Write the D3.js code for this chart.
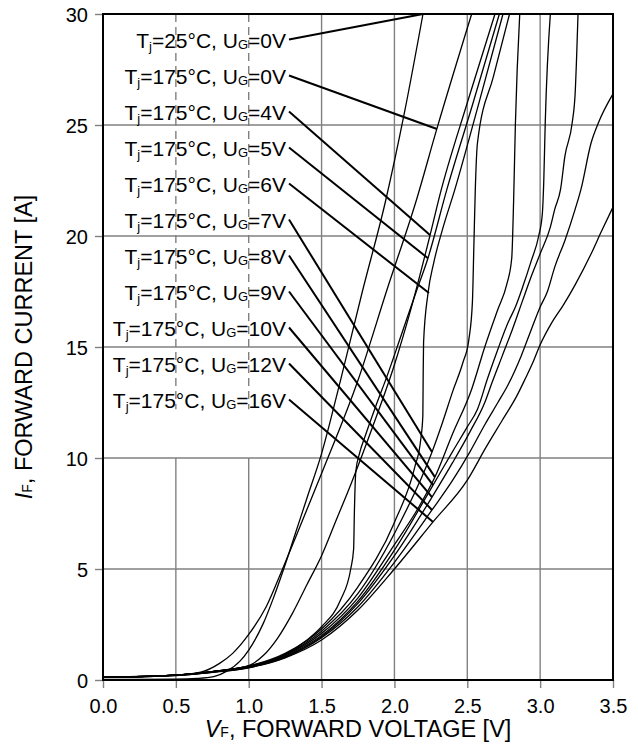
<!DOCTYPE html>
<html>
<head>
<meta charset="utf-8">
<script src="https://cdn.jsdelivr.net/npm/d3@7"></script>
<style>
  body { margin: 0; background: #fff; }
  svg { display: block; }
  text { font-family: "Liberation Sans", Arial, sans-serif; fill: #000; }
</style>
</head>
<body>
<div id="chart"></div>
<script>
// ============ Data (V_F [V], I_F [A]) ============
const tj25Ug0 = [[0,0.03],[0.5,0.04],[0.65,0.07],[0.76,0.15],[0.85,0.4],[0.94,0.85],[1.0,1.35],[1.1,2.55],[1.17,3.7],[1.24,5.0],[1.32,6.6],[1.4,8.2],[1.5,10.2],[1.63,13.5],[1.78,17.5],[1.94,21.6],[2.07,25.6],[2.196,30]];
const tj175Ug0 = [[0,0.12],[0.3,0.17],[0.5,0.22],[0.67,0.35],[0.8,0.75],[0.89,1.2],[1.0,2.05],[1.12,3.3],[1.235,5.05],[1.32,6.4],[1.5,9.3],[1.75,13.5],[1.95,17.6],[2.15,21.6],[2.29,24.8],[2.53,30]];
const tj175Ug4 = [[0,0.12],[0.5,0.22],[0.75,0.38],[1.0,0.65],[1.1,1.1],[1.2,1.9],[1.3,3.0],[1.4,4.3],[1.5,5.6],[1.6,7.2],[1.7,8.8],[1.85,11.4],[2.0,14.2],[2.1,16.4],[2.245,20.05],[2.31,21.8],[2.5,26.0],[2.69,30]];
const tj175Ug5 = [[0,0.12],[0.5,0.22],[0.75,0.38],[1.0,0.62],[1.25,1.15],[1.4,1.8],[1.5,2.4],[1.63,3.6],[1.7,5.0],[1.72,5.9],[1.725,7.5],[1.735,9.4],[1.76,10.2],[1.8,11.0],[1.87,12.3],[1.95,13.7],[2.05,15.6],[2.15,17.5],[2.23,19.0],[2.36,22.1],[2.54,26.0],[2.72,30]];
const tj175Ug6 = [[0,0.12],[0.5,0.22],[0.75,0.38],[1.0,0.63],[1.25,1.2],[1.5,2.3],[1.75,4.2],[2.0,7.1],[2.14,9.6],[2.18,10.8],[2.195,11.9],[2.197,13.5],[2.2,15.2],[2.23,17.4],[2.27,18.8],[2.33,20.3],[2.415,22.1],[2.58,26.0],[2.745,30]];
const tj175Ug7 = [[0,0.12],[0.5,0.22],[0.75,0.38],[1.0,0.62],[1.25,1.15],[1.5,2.2],[1.75,3.9],[2.0,6.6],[2.258,10.27],[2.33,11.6],[2.4,13.0],[2.47,14.3],[2.51,15.3],[2.535,17.0],[2.545,19.5],[2.555,22.1],[2.57,24.2],[2.68,27.2],[2.79,30]];
const tj175Ug8 = [[0,0.12],[0.5,0.22],[0.75,0.38],[1.0,0.6],[1.25,1.12],[1.5,2.1],[1.75,3.7],[2.0,6.1],[2.15,7.6],[2.278,9.14],[2.4,11.1],[2.53,13.1],[2.62,15.0],[2.71,16.7],[2.77,17.8],[2.805,19.0],[2.818,21.6],[2.83,25],[2.86,30]];
const tj175Ug9 = [[0,0.12],[0.5,0.22],[0.75,0.37],[1.0,0.58],[1.25,1.08],[1.5,2.0],[1.75,3.55],[2.0,5.85],[2.265,8.78],[2.4,10.3],[2.5,11.4],[2.57,12.2],[2.64,13.6],[2.71,14.9],[2.78,16.1],[2.83,16.8],[2.88,17.7],[2.94,18.9],[2.99,20.0],[3.015,21.0],[3.025,22.5],[3.035,25.1],[3.07,30]];
const tj175Ug10 = [[0,0.12],[0.5,0.21],[0.75,0.36],[1.0,0.57],[1.25,1.05],[1.5,1.95],[1.75,3.45],[2.0,5.6],[2.258,8.24],[2.4,9.8],[2.52,11.2],[2.62,12.5],[2.67,13.4],[2.74,14.6],[2.81,15.8],[2.88,17.1],[2.94,18.2],[3.0,19.2],[3.07,20.4],[3.1,21.2],[3.14,22.1],[3.17,23.6],[3.22,25.1],[3.24,26.4],[3.26,30]];
const tj175Ug12 = [[0,0.12],[0.5,0.21],[0.75,0.35],[1.0,0.56],[1.25,1.02],[1.5,1.9],[1.75,3.3],[2.0,5.3],[2.258,7.66],[2.4,9.0],[2.52,10.3],[2.62,11.5],[2.71,12.5],[2.78,13.3],[2.87,14.6],[2.94,15.8],[3.0,16.8],[3.05,17.5],[3.1,18.6],[3.17,19.8],[3.24,21.2],[3.28,22.1],[3.35,24.2],[3.4,25.1],[3.5,26.4]];
const tj175Ug16 = [[0,0.12],[0.5,0.2],[0.75,0.34],[1.0,0.55],[1.25,1.0],[1.5,1.8],[1.75,3.15],[2.0,5.0],[2.265,7.12],[2.5,9.0],[2.63,10.5],[2.74,11.7],[2.84,12.8],[2.9,13.6],[2.95,14.3],[3.0,15.1],[3.08,16.1],[3.16,16.9],[3.24,17.8],[3.35,19.2],[3.42,20.2],[3.5,21.3]];

const series = [tj25Ug0, tj175Ug0, tj175Ug4, tj175Ug5, tj175Ug6, tj175Ug7, tj175Ug8, tj175Ug9, tj175Ug10, tj175Ug12, tj175Ug16];

// Labels and where their leader lines touch the curves (V, I)
const labelTj = ['25', '175', '175', '175', '175', '175', '175', '175', '175', '175', '175'];
const labelUg = ['0', '0', '4', '5', '6', '7', '8', '9', '10', '12', '16'];
const leaderV = [2.196, 2.292, 2.244, 2.230, 2.237, 2.258, 2.278, 2.265, 2.258, 2.258, 2.265];
const leaderI = [30, 24.82, 20.05, 19.0, 17.43, 10.27, 9.14, 8.78, 8.24, 7.66, 7.12];

const xTicks = [0, 0.5, 1.0, 1.5, 2.0, 2.5, 3.0, 3.5];
const yTicks = [0, 5, 10, 15, 20, 25, 30];

// ============ Layout ============
const W = 638, H = 746;
const m = { left: 103, top: 14, right: 25, bottom: 66 };
const pw = W - m.left - m.right, ph = H - m.top - m.bottom;

const x = d3.scaleLinear().domain([0, 3.5]).range([m.left, m.left + pw]);
const y = d3.scaleLinear().domain([0, 30]).range([m.top + ph, m.top]);

const svg = d3.select('#chart').append('svg')
  .attr('width', W).attr('height', H);

const GRID = '#808080';

// ── Grid ──
const grid = svg.append('g').attr('stroke', GRID).attr('stroke-width', 1.4);
grid.selectAll('line.h').data(yTicks.filter(d => d > 0 && d < 30)).enter().append('line')
  .attr('x1', x(0)).attr('x2', x(3.5))
  .attr('y1', d => y(d)).attr('y2', d => y(d));

// verticals: 0.5 and 1.0 are dashed through the label block
xTicks.filter(d => d > 0 && d < 3.5).forEach(v => {
  if (v <= 1.0) {
    grid.append('line').attr('x1', x(v)).attr('x2', x(v))
      .attr('y1', y(30)).attr('y2', y(12.2))
      .attr('stroke-dasharray', '8,5');
    grid.append('line').attr('x1', x(v)).attr('x2', x(v))
      .attr('y1', y(10)).attr('y2', y(0));
  } else {
    grid.append('line').attr('x1', x(v)).attr('x2', x(v))
      .attr('y1', y(30)).attr('y2', y(0));
  }
});

// ── Axes (outward ticks) ──
const xAxis = svg.append('g')
  .attr('transform', `translate(0,${y(0)})`)
  .call(d3.axisBottom(x).tickValues(xTicks).tickFormat(d3.format('.1f')).tickSize(8).tickPadding(6));
const yAxis = svg.append('g')
  .attr('transform', `translate(${x(0)},0)`)
  .call(d3.axisLeft(y).tickValues(yTicks).tickSize(8).tickPadding(7));
[xAxis, yAxis].forEach(a => {
  a.select('.domain').remove();
  a.selectAll('line').attr('stroke', GRID).attr('stroke-width', 1.4);
  a.selectAll('text').attr('font-size', 20).attr('fill', '#000')
    .style('font-family', '"Liberation Sans", Arial, sans-serif');
});
xAxis.selectAll('text').attr('dy', '0.95em');
yAxis.selectAll('text').attr('dy', '0.36em');

// ── Curves ──
const line = d3.line()
  .x(d => x(d[0])).y(d => y(d[1]))
  .curve(d3.curveMonotoneX);

svg.append('g').selectAll('path')
  .data(series).enter().append('path')
  .attr('d', line)
  .attr('fill', 'none')
  .attr('stroke', '#000')
  .attr('stroke-width', 1.3)
  .attr('stroke-linejoin', 'round');

// ── Labels with leader lines ──
const labelRight = 286, firstBase = 47.5, rowGap = 36;
const labels = svg.append('g');
labelUg.forEach((ug, i) => {
  const base = firstBase + i * rowGap;
  const t = labels.append('text')
    .attr('x', labelRight).attr('y', base)
    .attr('text-anchor', 'end').attr('font-size', 21);
  t.append('tspan').text('T');
  t.append('tspan').attr('font-size', 13).attr('dy', 3).text('j');
  t.append('tspan').attr('dy', -3).text(`=${labelTj[i]}°C, U`);
  t.append('tspan').attr('font-size', 13).attr('dy', 1).text('G');
  t.append('tspan').attr('dy', -1).text(`=${ug}V`);

  labels.append('line')
    .attr('x1', labelRight + 3).attr('y1', base - 8)
    .attr('x2', x(leaderV[i])).attr('y2', y(leaderI[i]))
    .attr('stroke', '#000').attr('stroke-width', 2);
});

// ── Plot frame ──
svg.append('rect')
  .attr('x', x(0)).attr('y', y(30))
  .attr('width', pw).attr('height', ph)
  .attr('fill', 'none').attr('stroke', '#000').attr('stroke-width', 2);

// ── Axis titles ──
const xt = svg.append('text')
  .attr('x', m.left + pw / 2).attr('y', 737)
  .attr('text-anchor', 'middle').attr('font-size', 23.5);
xt.append('tspan').attr('font-style', 'italic').text('V');
xt.append('tspan').attr('font-size', 14).text('F');
xt.append('tspan').text(', FORWARD VOLTAGE [V]');

const yt = svg.append('text')
  .attr('transform', `translate(32,${m.top + ph / 2}) rotate(-90)`)
  .attr('text-anchor', 'middle').attr('font-size', 23.5);
yt.append('tspan').attr('font-style', 'italic').text('I');
yt.append('tspan').attr('font-size', 14).text('F');
yt.append('tspan').text(', FORWARD CURRENT [A]');
</script>
</body>
</html>
